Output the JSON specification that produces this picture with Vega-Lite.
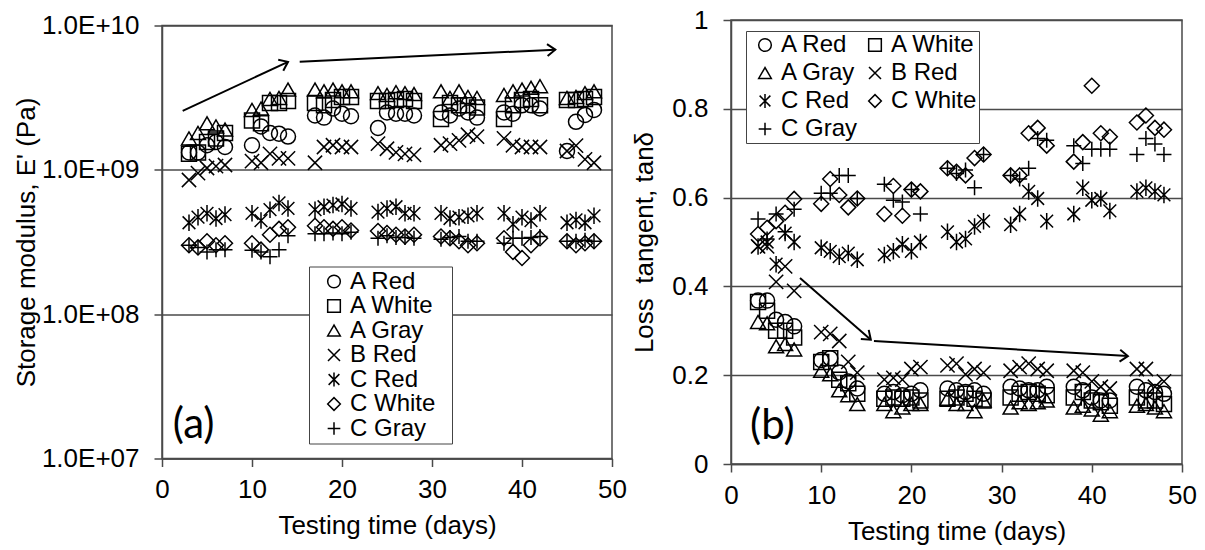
{
"$schema": "https://vega.github.io/schema/vega-lite/v6.json",
"background": "white",
"padding": {"left": 12, "top": 6, "right": 5, "bottom": 5},
"bounds": "flush",
"center": true,
"spacing": 119,
"resolve": {"scale": {"shape": "independent"}, "legend": {"shape": "independent"}},
"config": {
  "font": "Liberation Sans",
  "view": {"stroke": "#4a4a4a", "strokeWidth": 1.5},
  "axis": {"labelFont": "Liberation Sans", "titleFont": "Liberation Sans", "labelFontSize": 26, "titleFontSize": 26, "titleFontWeight": "normal", "labelColor": "black", "titleColor": "black", "domainColor": "#4a4a4a", "domainWidth": 1.5, "tickColor": "#4a4a4a", "tickWidth": 1.5, "tickSize": 8, "gridColor": "#4a4a4a", "gridWidth": 1.5, "labelFlush": false, "labelOverlap": false},
  "legend": {"labelFont": "Liberation Sans", "labelColor": "black", "strokeColor": "#444", "fillColor": "white", "symbolStrokeColor": "black", "symbolFillColor": "transparent", "symbolStrokeWidth": 1.5, "symbolSize": 160, "labelOffset": 4}
},
"datasets": {
"pts": [
{"s":"A Red","d":3,"E":1.32e9,"t":0.368},{"s":"A Red","d":4,"E":1.32e9,"t":0.368},{"s":"A Red","d":5,"E":1.48e9,"t":0.325},{"s":"A Red","d":6,"E":1.56e9,"t":0.32},{"s":"A Red","d":7,"E":1.44e9,"t":0.31},
{"s":"A Red","d":10,"E":1.48e9,"t":0.234},{"s":"A Red","d":11,"E":2.0e9,"t":0.238},{"s":"A Red","d":12,"E":1.8e9,"t":0.206},{"s":"A Red","d":13,"E":1.78e9,"t":0.186},{"s":"A Red","d":14,"E":1.7e9,"t":0.17},
{"s":"A Red","d":17,"E":2.38e9,"t":0.158},{"s":"A Red","d":18,"E":2.3e9,"t":0.162},{"s":"A Red","d":19,"E":2.66e9,"t":0.155},{"s":"A Red","d":20,"E":2.45e9,"t":0.158},{"s":"A Red","d":21,"E":2.35e9,"t":0.166},
{"s":"A Red","d":24,"E":1.95e9,"t":0.17},{"s":"A Red","d":25,"E":2.5e9,"t":0.166},{"s":"A Red","d":26,"E":2.45e9,"t":0.162},{"s":"A Red","d":27,"E":2.45e9,"t":0.166},{"s":"A Red","d":28,"E":2.38e9,"t":0.158},
{"s":"A Red","d":31,"E":2.5e9,"t":0.174},{"s":"A Red","d":32,"E":2.38e9,"t":0.17},{"s":"A Red","d":33,"E":2.66e9,"t":0.166},{"s":"A Red","d":34,"E":2.5e9,"t":0.166},{"s":"A Red","d":35,"E":2.3e9,"t":0.174},
{"s":"A Red","d":38,"E":2.5e9,"t":0.174},{"s":"A Red","d":39,"E":2.45e9,"t":0.166},{"s":"A Red","d":40,"E":2.8e9,"t":0.15},{"s":"A Red","d":41,"E":2.8e9,"t":0.143},{"s":"A Red","d":42,"E":2.66e9,"t":0.143},
{"s":"A Red","d":45,"E":1.35e9,"t":0.174},{"s":"A Red","d":46,"E":2.15e9,"t":0.166},{"s":"A Red","d":47,"E":2.4e9,"t":0.162},{"s":"A Red","d":48,"E":2.6e9,"t":0.158},
{"s":"A White","d":3,"E":1.29e9,"t":0.365},{"s":"A White","d":4,"E":1.32e9,"t":0.345},{"s":"A White","d":5,"E":1.56e9,"t":0.30},{"s":"A White","d":6,"E":1.65e9,"t":0.30},{"s":"A White","d":7,"E":1.8e9,"t":0.285},
{"s":"A White","d":10,"E":2.2e9,"t":0.23},{"s":"A White","d":11,"E":2.1e9,"t":0.238},{"s":"A White","d":12,"E":2.9e9,"t":0.19},{"s":"A White","d":13,"E":2.9e9,"t":0.182},{"s":"A White","d":14,"E":3.0e9,"t":0.158},
{"s":"A White","d":17,"E":2.9e9,"t":0.147},{"s":"A White","d":18,"E":2.8e9,"t":0.15},{"s":"A White","d":19,"E":3.05e9,"t":0.147},{"s":"A White","d":20,"E":3.2e9,"t":0.15},{"s":"A White","d":21,"E":3.2e9,"t":0.143},
{"s":"A White","d":24,"E":3.0e9,"t":0.147},{"s":"A White","d":25,"E":3.0e9,"t":0.15},{"s":"A White","d":26,"E":3.05e9,"t":0.158},{"s":"A White","d":27,"E":3.1e9,"t":0.147},{"s":"A White","d":28,"E":3.0e9,"t":0.143},
{"s":"A White","d":31,"E":2.25e9,"t":0.15},{"s":"A White","d":32,"E":2.9e9,"t":0.158},{"s":"A White","d":33,"E":2.8e9,"t":0.162},{"s":"A White","d":34,"E":2.8e9,"t":0.158},{"s":"A White","d":35,"E":2.7e9,"t":0.155},
{"s":"A White","d":38,"E":2.25e9,"t":0.15},{"s":"A White","d":39,"E":2.8e9,"t":0.162},{"s":"A White","d":40,"E":3.05e9,"t":0.143},{"s":"A White","d":41,"E":3.1e9,"t":0.139},{"s":"A White","d":42,"E":2.8e9,"t":0.131},
{"s":"A White","d":45,"E":3.05e9,"t":0.15},{"s":"A White","d":46,"E":3.05e9,"t":0.143},{"s":"A White","d":47,"E":3.1e9,"t":0.143},{"s":"A White","d":48,"E":3.2e9,"t":0.135},
{"s":"A Gray","d":3,"E":1.65e9,"t":0.32},{"s":"A Gray","d":4,"E":1.8e9,"t":0.317},{"s":"A Gray","d":5,"E":2.1e9,"t":0.265},{"s":"A Gray","d":6,"E":2.0e9,"t":0.27},{"s":"A Gray","d":7,"E":1.9e9,"t":0.258},
{"s":"A Gray","d":10,"E":2.6e9,"t":0.21},{"s":"A Gray","d":11,"E":2.66e9,"t":0.202},{"s":"A Gray","d":12,"E":3.1e9,"t":0.166},{"s":"A Gray","d":13,"E":3.15e9,"t":0.155},{"s":"A Gray","d":14,"E":3.6e9,"t":0.135},
{"s":"A Gray","d":17,"E":3.6e9,"t":0.135},{"s":"A Gray","d":18,"E":3.5e9,"t":0.119},{"s":"A Gray","d":19,"E":3.6e9,"t":0.127},{"s":"A Gray","d":20,"E":3.5e9,"t":0.135},{"s":"A Gray","d":21,"E":3.5e9,"t":0.135},
{"s":"A Gray","d":24,"E":3.4e9,"t":0.147},{"s":"A Gray","d":25,"E":3.3e9,"t":0.135},{"s":"A Gray","d":26,"E":3.45e9,"t":0.135},{"s":"A Gray","d":27,"E":3.4e9,"t":0.119},{"s":"A Gray","d":28,"E":3.35e9,"t":0.143},
{"s":"A Gray","d":31,"E":3.5e9,"t":0.127},{"s":"A Gray","d":32,"E":3.15e9,"t":0.139},{"s":"A Gray","d":33,"E":3.5e9,"t":0.135},{"s":"A Gray","d":34,"E":3.2e9,"t":0.139},{"s":"A Gray","d":35,"E":3.15e9,"t":0.143},
{"s":"A Gray","d":38,"E":3.3e9,"t":0.127},{"s":"A Gray","d":39,"E":3.5e9,"t":0.131},{"s":"A Gray","d":40,"E":3.6e9,"t":0.123},{"s":"A Gray","d":41,"E":3.7e9,"t":0.111},{"s":"A Gray","d":42,"E":3.8e9,"t":0.119},
{"s":"A Gray","d":45,"E":3.15e9,"t":0.131},{"s":"A Gray","d":46,"E":3.2e9,"t":0.135},{"s":"A Gray","d":47,"E":3.4e9,"t":0.127},{"s":"A Gray","d":48,"E":3.5e9,"t":0.119},
{"s":"B Red","d":3,"E":0.85e9,"t":0.49},{"s":"B Red","d":4,"E":0.95e9,"t":0.49},{"s":"B Red","d":5,"E":1.03e9,"t":0.41},{"s":"B Red","d":6,"E":1.06e9,"t":0.445},{"s":"B Red","d":7,"E":1.08e9,"t":0.39},
{"s":"B Red","d":10,"E":1.15e9,"t":0.297},{"s":"B Red","d":11,"E":1.12e9,"t":0.293},{"s":"B Red","d":12,"E":1.29e9,"t":0.277},{"s":"B Red","d":13,"E":1.2e9,"t":0.23},{"s":"B Red","d":14,"E":1.2e9,"t":0.206},
{"s":"B Red","d":17,"E":1.12e9,"t":0.19},{"s":"B Red","d":18,"E":1.44e9,"t":0.194},{"s":"B Red","d":19,"E":1.48e9,"t":0.19},{"s":"B Red","d":20,"E":1.44e9,"t":0.214},{"s":"B Red","d":21,"E":1.44e9,"t":0.218},
{"s":"B Red","d":24,"E":1.52e9,"t":0.222},{"s":"B Red","d":25,"E":1.4e9,"t":0.226},{"s":"B Red","d":26,"E":1.32e9,"t":0.202},{"s":"B Red","d":27,"E":1.29e9,"t":0.214},{"s":"B Red","d":28,"E":1.27e9,"t":0.206},
{"s":"B Red","d":31,"E":1.48e9,"t":0.21},{"s":"B Red","d":32,"E":1.52e9,"t":0.218},{"s":"B Red","d":33,"E":1.6e9,"t":0.226},{"s":"B Red","d":34,"E":1.75e9,"t":0.214},{"s":"B Red","d":35,"E":1.7e9,"t":0.21},
{"s":"B Red","d":38,"E":1.65e9,"t":0.21},{"s":"B Red","d":39,"E":1.48e9,"t":0.206},{"s":"B Red","d":40,"E":1.44e9,"t":0.186},{"s":"B Red","d":41,"E":1.44e9,"t":0.174},{"s":"B Red","d":42,"E":1.44e9,"t":0.17},
{"s":"B Red","d":45,"E":1.35e9,"t":0.214},{"s":"B Red","d":46,"E":1.47e9,"t":0.214},{"s":"B Red","d":47,"E":1.18e9,"t":0.174},{"s":"B Red","d":48,"E":1.12e9,"t":0.186},
{"s":"C Red","d":3,"E":4.3e8,"t":0.49},{"s":"C Red","d":4,"E":4.7e8,"t":0.5},{"s":"C Red","d":5,"E":5.0e8,"t":0.45},{"s":"C Red","d":6,"E":4.6e8,"t":0.52},{"s":"C Red","d":7,"E":4.9e8,"t":0.5},
{"s":"C Red","d":10,"E":5.0e8,"t":0.487},{"s":"C Red","d":11,"E":4.45e8,"t":0.479},{"s":"C Red","d":12,"E":5.3e8,"t":0.467},{"s":"C Red","d":13,"E":5.9e8,"t":0.475},{"s":"C Red","d":14,"E":5.4e8,"t":0.46},
{"s":"C Red","d":17,"E":5.3e8,"t":0.471},{"s":"C Red","d":18,"E":5.55e8,"t":0.479},{"s":"C Red","d":19,"E":5.7e8,"t":0.495},{"s":"C Red","d":20,"E":5.8e8,"t":0.479},{"s":"C Red","d":21,"E":5.4e8,"t":0.5},
{"s":"C Red","d":24,"E":5.1e8,"t":0.523},{"s":"C Red","d":25,"E":5.4e8,"t":0.5},{"s":"C Red","d":26,"E":5.55e8,"t":0.507},{"s":"C Red","d":27,"E":5.0e8,"t":0.535},{"s":"C Red","d":28,"E":5.0e8,"t":0.547},
{"s":"C Red","d":31,"E":5.0e8,"t":0.539},{"s":"C Red","d":32,"E":4.6e8,"t":0.563},{"s":"C Red","d":33,"E":4.7e8,"t":0.614},{"s":"C Red","d":34,"E":4.8e8,"t":0.598},{"s":"C Red","d":35,"E":5.0e8,"t":0.547},
{"s":"C Red","d":38,"E":5.0e8,"t":0.563},{"s":"C Red","d":39,"E":4.2e8,"t":0.622},{"s":"C Red","d":40,"E":4.7e8,"t":0.594},{"s":"C Red","d":41,"E":4.45e8,"t":0.598},{"s":"C Red","d":42,"E":5.0e8,"t":0.57},
{"s":"C Red","d":45,"E":4.3e8,"t":0.614},{"s":"C Red","d":46,"E":4.5e8,"t":0.622},{"s":"C Red","d":47,"E":4.3e8,"t":0.614},{"s":"C Red","d":48,"E":4.8e8,"t":0.606},
{"s":"C White","d":3,"E":3.0e8,"t":0.518},{"s":"C White","d":4,"E":2.9e8,"t":0.532},{"s":"C White","d":5,"E":3.2e8,"t":0.547},{"s":"C White","d":6,"E":3.0e8,"t":0.566},{"s":"C White","d":7,"E":3.1e8,"t":0.597},
{"s":"C White","d":10,"E":3.1e8,"t":0.586},{"s":"C White","d":11,"E":2.8e8,"t":0.642},{"s":"C White","d":12,"E":3.55e8,"t":0.606},{"s":"C White","d":13,"E":3.9e8,"t":0.578},{"s":"C White","d":14,"E":4.0e8,"t":0.598},
{"s":"C White","d":17,"E":4.1e8,"t":0.563},{"s":"C White","d":18,"E":4.0e8,"t":0.626},{"s":"C White","d":19,"E":3.9e8,"t":0.559},{"s":"C White","d":20,"E":4.0e8,"t":0.618},{"s":"C White","d":21,"E":3.8e8,"t":0.614},
{"s":"C White","d":24,"E":3.77e8,"t":0.666},{"s":"C White","d":25,"E":3.65e8,"t":0.658},{"s":"C White","d":26,"E":3.55e8,"t":0.65},{"s":"C White","d":27,"E":3.45e8,"t":0.689},{"s":"C White","d":28,"E":3.55e8,"t":0.697},
{"s":"C White","d":31,"E":3.45e8,"t":0.65},{"s":"C White","d":32,"E":3.36e8,"t":0.65},{"s":"C White","d":33,"E":3.2e8,"t":0.745},{"s":"C White","d":34,"E":3.0e8,"t":0.757},{"s":"C White","d":35,"E":3.1e8,"t":0.717},
{"s":"C White","d":38,"E":3.36e8,"t":0.681},{"s":"C White","d":39,"E":2.7e8,"t":0.725},{"s":"C White","d":40,"E":2.45e8,"t":0.852},{"s":"C White","d":41,"E":3.0e8,"t":0.745},{"s":"C White","d":42,"E":3.36e8,"t":0.737},
{"s":"C White","d":45,"E":3.2e8,"t":0.769},{"s":"C White","d":46,"E":3.0e8,"t":0.785},{"s":"C White","d":47,"E":3.1e8,"t":0.757},{"s":"C White","d":48,"E":3.2e8,"t":0.753},
{"s":"C Gray","d":3,"E":3.0e8,"t":0.552},{"s":"C Gray","d":4,"E":2.9e8,"t":0.507},{"s":"C Gray","d":5,"E":2.7e8,"t":0.563},{"s":"C Gray","d":6,"E":2.8e8,"t":0.523},{"s":"C Gray","d":7,"E":2.8e8,"t":0.574},
{"s":"C Gray","d":10,"E":2.77e8,"t":0.61},{"s":"C Gray","d":11,"E":2.7e8,"t":0.61},{"s":"C Gray","d":12,"E":2.5e8,"t":0.65},{"s":"C Gray","d":13,"E":2.8e8,"t":0.65},{"s":"C Gray","d":14,"E":3.5e8,"t":0.598},
{"s":"C Gray","d":17,"E":3.6e8,"t":0.63},{"s":"C Gray","d":18,"E":3.6e8,"t":0.594},{"s":"C Gray","d":19,"E":3.65e8,"t":0.59},{"s":"C Gray","d":20,"E":3.6e8,"t":0.618},{"s":"C Gray","d":21,"E":3.7e8,"t":0.563},
{"s":"C Gray","d":24,"E":3.36e8,"t":0.666},{"s":"C Gray","d":25,"E":3.5e8,"t":0.654},{"s":"C Gray","d":26,"E":3.4e8,"t":0.662},{"s":"C Gray","d":27,"E":3.4e8,"t":0.622},{"s":"C Gray","d":28,"E":3.36e8,"t":0.697},
{"s":"C Gray","d":31,"E":3.3e8,"t":0.65},{"s":"C Gray","d":32,"E":3.4e8,"t":0.642},{"s":"C Gray","d":33,"E":3.45e8,"t":0.666},{"s":"C Gray","d":34,"E":3.2e8,"t":0.733},{"s":"C Gray","d":35,"E":3.2e8,"t":0.729},
{"s":"C Gray","d":38,"E":3.1e8,"t":0.717},{"s":"C Gray","d":39,"E":3.36e8,"t":0.677},{"s":"C Gray","d":40,"E":3.36e8,"t":0.709},{"s":"C Gray","d":41,"E":3.4e8,"t":0.709},{"s":"C Gray","d":42,"E":3.45e8,"t":0.709},
{"s":"C Gray","d":45,"E":3.2e8,"t":0.697},{"s":"C Gray","d":46,"E":3.2e8,"t":0.733},{"s":"C Gray","d":47,"E":3.25e8,"t":0.721},{"s":"C Gray","d":48,"E":3.2e8,"t":0.697}
],
"arrowsA": [
{"id":1,"x1":2.3,"y1":2.56e9,"x2":14.0,"y2":5.6e9},
{"id":2,"x1":15.3,"y1":5.6e9,"x2":43.7,"y2":6.8e9}
],
"arrowsB": [
{"id":1,"x1":7.65,"y1":0.419,"x2":15.5,"y2":0.28},
{"id":2,"x1":15.85,"y1":0.277,"x2":44.0,"y2":0.243}
],
"tags": [{"p":"a","label":"(a)"},{"p":"b","label":"(b)"}]
},
"hconcat": [
{
  "width": 450, "height": 433,
  "layer": [
    {
      "data": {"name": "pts"},
      "mark": {"type": "point", "filled": false, "color": "black", "strokeWidth": 1.5, "size": 225, "opacity": 1},
      "encoding": {
        "x": {"field": "d", "type": "quantitative", "title": "Testing time (days)", "scale": {"domain": [0, 50], "nice": false}, "axis": {"values": [0,10,20,30,40,50], "grid": false, "labelPadding": 10, "titlePadding": 10}},
        "y": {"field": "E", "type": "quantitative", "title": "Storage modulus, E' (Pa)", "scale": {"type": "log", "domain": [1e7, 1e10], "nice": false}, "axis": {"values": [1e7,1e8,1e9,1e10], "grid": true, "labelPadding": 15, "titlePadding": 2, "labelExpr": "datum.value < 5e7 ? '1.0E+07' : datum.value < 5e8 ? '1.0E+08' : datum.value < 5e9 ? '1.0E+09' : '1.0E+10'"}},
        "shape": {"field": "s", "type": "nominal",
          "scale": {"domain": ["A Red","A White","A Gray","B Red","C Red","C White","C Gray"],
                    "range": ["circle","square","triangle-up","M-0.95,-0.95L0.95,0.95M-0.95,0.95L0.95,-0.95","M-0.85,-0.85L0.85,0.85M-0.85,0.85L0.85,-0.85M0,-1.1L0,1.1","diamond","M-1,0L1,0M0,-1L0,1"]},
          "legend": {"orient": "none", "legendX": 147, "legendY": 241, "title": null, "padding": 3, "symbolOffset": 10, "labelFontSize": 24, "rowPadding": 0.5, "labelExpr": "datum.label + '\u00a0\u00a0\u200b'"}}
      }
    },
    {
      "data": {"name": "arrowsA"},
      "mark": {"type": "rule", "color": "black", "strokeWidth": 2},
      "encoding": {
        "x": {"field": "x1", "type": "quantitative", "title": "Testing time (days)"},
        "x2": {"field": "x2"},
        "y": {"field": "y1", "type": "quantitative", "title": "Storage modulus, E' (Pa)"},
        "y2": {"field": "y2"}
      }
    },
    {
      "data": {"name": "arrowsA"},
      "transform": [{"filter": "datum.id == 1"}],
      "mark": {"type": "point", "shape": "M-1,-0.75L0,0L-1,0.75", "filled": false, "color": "black", "strokeWidth": 2, "size": 256, "opacity": 1, "angle": -25},
      "encoding": {
        "x": {"field": "x2", "type": "quantitative", "title": "Testing time (days)"},
        "y": {"field": "y2", "type": "quantitative", "title": "Storage modulus, E' (Pa)"}
      }
    },
    {
      "data": {"name": "arrowsA"},
      "transform": [{"filter": "datum.id == 2"}],
      "mark": {"type": "point", "shape": "M-1,-0.75L0,0L-1,0.75", "filled": false, "color": "black", "strokeWidth": 2, "size": 256, "opacity": 1, "angle": -3},
      "encoding": {
        "x": {"field": "x2", "type": "quantitative", "title": "Testing time (days)"},
        "y": {"field": "y2", "type": "quantitative", "title": "Storage modulus, E' (Pa)"}
      }
    },
    {
      "data": {"name": "tags"},
      "transform": [{"filter": "datum.p == 'a'"}],
      "mark": {"type": "text", "font": "Lato", "fontSize": 42, "align": "left", "baseline": "middle", "color": "black"},
      "encoding": {
        "x": {"datum": 1.2, "type": "quantitative"},
        "y": {"datum": 1.7e7, "type": "quantitative"},
        "text": {"field": "label"}
      }
    }
  ]
},
{
  "width": 451, "height": 444,
  "layer": [
    {
      "data": {"name": "pts"},
      "mark": {"type": "point", "filled": false, "color": "black", "strokeWidth": 1.5, "size": 225, "opacity": 1},
      "encoding": {
        "x": {"field": "d", "type": "quantitative", "title": "Testing time (days)", "scale": {"domain": [0, 50], "nice": false}, "axis": {"values": [0,10,20,30,40,50], "grid": false, "labelPadding": 10, "titlePadding": 10}},
        "y": {"field": "t", "type": "quantitative", "title": "Loss\u00a0 tangent, tanδ", "scale": {"domain": [0, 1], "nice": false}, "axis": {"values": [0,0.2,0.4,0.6,0.8,1], "format": "~g", "grid": true, "labelPadding": 15, "titlePadding": 14}},
        "shape": {"field": "s", "type": "nominal",
          "scale": {"domain": ["A Red","A White","A Gray","B Red","C Red","C White","C Gray"],
                    "range": ["circle","square","triangle-up","M-0.95,-0.95L0.95,0.95M-0.95,0.95L0.95,-0.95","M-0.85,-0.85L0.85,0.85M-0.85,0.85L0.85,-0.85M0,-1.1L0,1.1","diamond","M-1,0L1,0M0,-1L0,1"]},
          "legend": {"orient": "none", "legendX": 15, "legendY": 11, "title": null, "columns": 2, "direction": "horizontal", "padding": 2, "symbolOffset": 5, "labelFontSize": 24, "rowPadding": 4, "columnPadding": 0}}
      }
    },
    {
      "data": {"name": "arrowsB"},
      "mark": {"type": "rule", "color": "black", "strokeWidth": 2},
      "encoding": {
        "x": {"field": "x1", "type": "quantitative", "title": "Testing time (days)"},
        "x2": {"field": "x2"},
        "y": {"field": "y1", "type": "quantitative", "title": "Loss\u00a0 tangent, tanδ"},
        "y2": {"field": "y2"}
      }
    },
    {
      "data": {"name": "arrowsB"},
      "transform": [{"filter": "datum.id == 1"}],
      "mark": {"type": "point", "shape": "M-1,-0.75L0,0L-1,0.75", "filled": false, "color": "black", "strokeWidth": 2, "size": 256, "opacity": 1, "angle": 41},
      "encoding": {
        "x": {"field": "x2", "type": "quantitative", "title": "Testing time (days)"},
        "y": {"field": "y2", "type": "quantitative", "title": "Loss\u00a0 tangent, tanδ"}
      }
    },
    {
      "data": {"name": "arrowsB"},
      "transform": [{"filter": "datum.id == 2"}],
      "mark": {"type": "point", "shape": "M-1,-0.75L0,0L-1,0.75", "filled": false, "color": "black", "strokeWidth": 2, "size": 256, "opacity": 1, "angle": 3.4},
      "encoding": {
        "x": {"field": "x2", "type": "quantitative", "title": "Testing time (days)"},
        "y": {"field": "y2", "type": "quantitative", "title": "Loss\u00a0 tangent, tanδ"}
      }
    },
    {
      "data": {"name": "tags"},
      "transform": [{"filter": "datum.p == 'b'"}],
      "mark": {"type": "text", "font": "Lato", "fontSize": 42, "align": "left", "baseline": "middle", "color": "black"},
      "encoding": {
        "x": {"datum": 2.1, "type": "quantitative"},
        "y": {"datum": 0.086, "type": "quantitative"},
        "text": {"field": "label"}
      }
    }
  ]
}
]
}
